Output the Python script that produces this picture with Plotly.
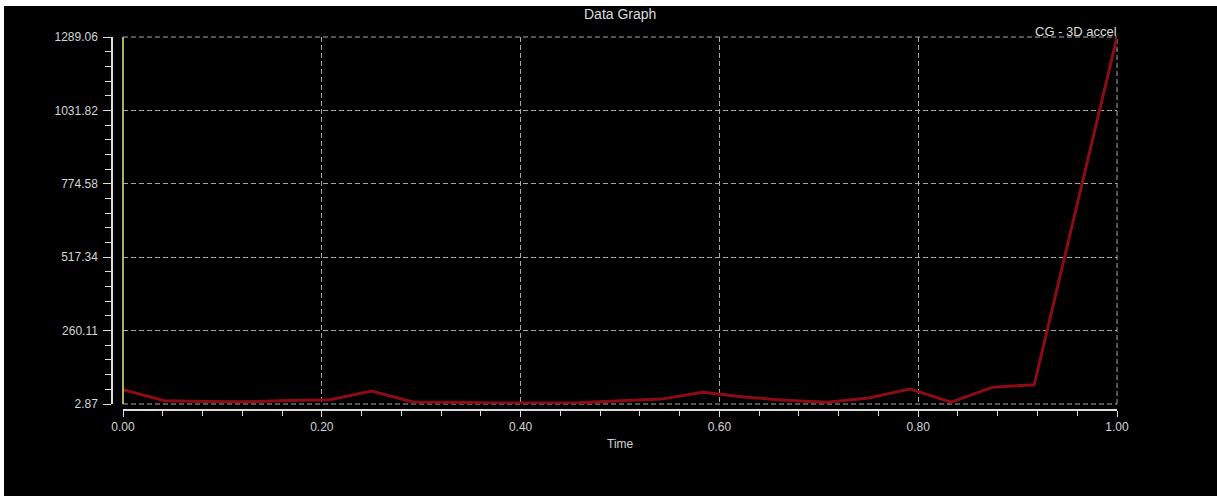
import numpy as np
import plotly.graph_objects as go

# ---- data ----
time_vals = [0.0, 0.0417, 0.0833, 0.125, 0.1667, 0.2083, 0.25, 0.2917, 0.3333,
             0.375, 0.4167, 0.4583, 0.5, 0.5417, 0.5833, 0.625, 0.6667, 0.7083,
             0.75, 0.7917, 0.8333, 0.875, 0.9167, 0.9583, 1.0]
accel_vals = [53, 14, 12, 11, 15, 18, 48, 10, 9,
              6, 6, 7, 14, 20, 44, 27, 16, 9,
              24, 55, 9, 62, 70, 680, 1289.06]
y_ticks = [2.87, 260.11, 517.34, 774.58, 1031.82, 1289.06]
y_tick_labels = ["2.87", "260.11", "517.34", "774.58", "1031.82", "1289.06"]
x_ticks = [0.0, 0.2, 0.4, 0.6, 0.8, 1.0]
x_tick_labels = ["0.00", "0.20", "0.40", "0.60", "0.80", "1.00"]
series_name = "CG - 3D accel"

# ---- layout geometry ----
W, H = 1213, 490
ML, MR, MT, MB = 108, 100, 31, 86
PW, PH = W - ML - MR, H - MT - MB
x_dom0 = 11 / PW
y_dom0 = 6 / PH

y_minor = [v for v in np.linspace(y_ticks[0], y_ticks[-1], 26) if v not in y_ticks]
x_minor = [round(v, 4) for v in np.arange(0, 1.0001, 0.04)]

font_fam = "Liberation Sans, Arial, sans-serif"
txt_col = "#d4d4d4"
grid_col = "#a8a8a8"
axis_col = "#dcdcdc"
grid_dash = "5px,3px"

fig = go.Figure()
fig.add_trace(go.Scatter(
    x=time_vals, y=accel_vals, mode="lines", name=series_name,
    line=dict(color="#8c0c16", width=3), showlegend=False,
))

# edge grid lines (plot frame: top, bottom, right)
edge_line = dict(color=grid_col, width=1, dash=grid_dash)
fig.add_shape(type="line", xref="paper", yref="paper", x0=x_dom0, x1=1, y0=1, y1=1,
              line=edge_line, layer="below")
fig.add_shape(type="line", xref="paper", yref="paper", x0=x_dom0, x1=1, y0=y_dom0, y1=y_dom0,
              line=edge_line, layer="below")
fig.add_shape(type="line", xref="paper", yref="paper", x0=1, x1=1, y0=y_dom0, y1=1,
              line=edge_line, layer="below")

# cursor line at time 0
fig.add_shape(type="line", xref="paper", yref="paper", x0=x_dom0, x1=x_dom0,
              y0=y_dom0, y1=1,
              line=dict(color="#dcef7e", width=1.5), layer="above")

fig.update_layout(
    width=W, height=H,
    margin=dict(l=ML, r=MR, t=MT, b=MB, pad=0),
    paper_bgcolor="black", plot_bgcolor="black",
    font=dict(family=font_fam, size=12, color=txt_col),
    xaxis=dict(
        domain=[x_dom0, 1], range=[0, 1], anchor="free", position=0,
        tickvals=x_ticks, ticktext=x_tick_labels,
        showline=True, linecolor=axis_col, linewidth=1.5,
        ticks="outside", ticklen=6, tickcolor=axis_col, tickwidth=1,
        showgrid=True, gridcolor=grid_col, griddash=grid_dash, gridwidth=1,
        zeroline=False,
        minor=dict(tickvals=x_minor, ticks="outside", ticklen=5,
                   tickcolor=axis_col, showgrid=False),
        tickfont=dict(size=12, color=txt_col),
    ),
    yaxis=dict(
        domain=[y_dom0, 1], range=[y_ticks[0], y_ticks[-1]],
        anchor="free", position=0,
        tickvals=y_ticks, ticktext=y_tick_labels,
        showline=True, linecolor=axis_col, linewidth=1.5,
        ticks="outside", ticklen=8, tickcolor=axis_col, tickwidth=1,
        showgrid=True, gridcolor=grid_col, griddash=grid_dash, gridwidth=1,
        zeroline=False, ticklabelstandoff=3,
        minor=dict(tickvals=y_minor, ticks="outside", ticklen=6,
                   tickcolor=axis_col, showgrid=False),
        tickfont=dict(size=12, color=txt_col),
    ),
    annotations=[
        dict(text="Data Graph", xref="paper", yref="paper",
             x=(616 - ML) / PW, y=(H - MB - 8) / PH, xanchor="center", yanchor="middle",
             showarrow=False, font=dict(size=14, color="#dcdcdc")),
        dict(text=series_name, xref="paper", yref="paper",
             x=(1115 - ML) / PW, y=(H - MB - 26) / PH, xanchor="right", yanchor="middle",
             showarrow=False, font=dict(size=13, color="#dcdcdc")),
        dict(text="Time", xref="paper", yref="paper",
             x=(616 - ML) / PW, y=(H - MB - 438) / PH, xanchor="center", yanchor="middle",
             showarrow=False, font=dict(size=12, color=txt_col)),
    ],
)

fig.write_html("out.html", post_script="document.body.style.margin='6px 0 0 4px';document.body.style.background='white';document.body.style.overflow='hidden';")
